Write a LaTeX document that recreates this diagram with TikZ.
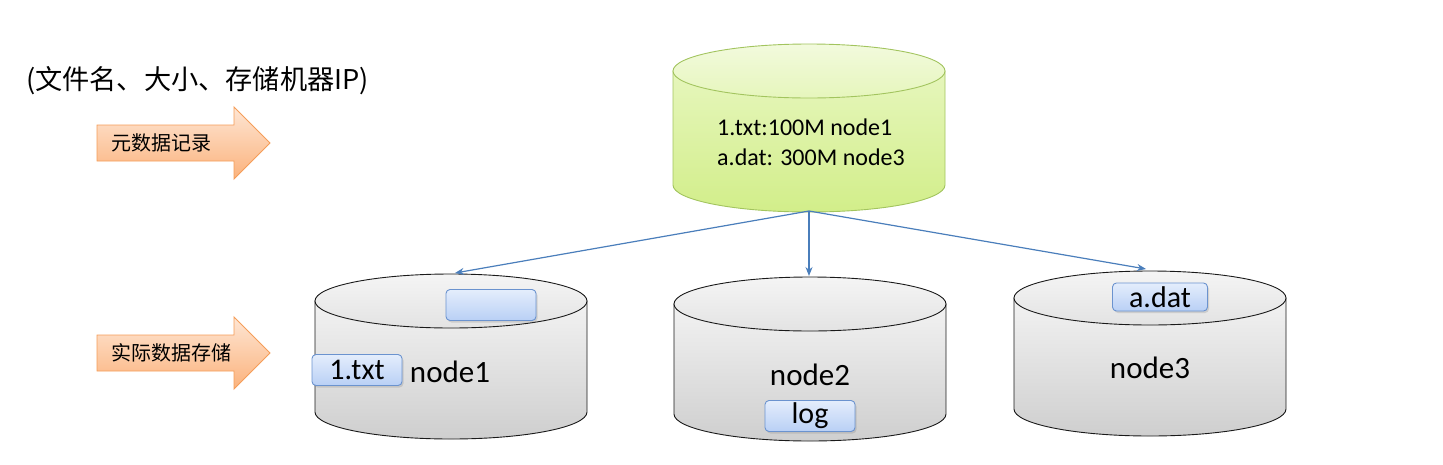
\documentclass[tikz,border=0pt]{standalone}
\usepackage{fontspec}
\setmainfont{Carlito}
\newfontfamily\cjk{Noto Sans CJK SC}
\usetikzlibrary{arrows.meta,shadows}
\definecolor{diskline}{HTML}{1A1A1A}
\definecolor{metaline}{HTML}{A2C45E}
\definecolor{metatop}{HTML}{F2FADD}
\definecolor{metamid}{HTML}{E6F6BC}
\definecolor{metabot}{HTML}{D2EE8A}
\definecolor{linkblue}{HTML}{4A7EBB}
\definecolor{boxline}{HTML}{6B93CF}
\definecolor{boxtop}{HTML}{E4EDFC}
\definecolor{boxbot}{HTML}{B9D0F5}
\definecolor{tagline}{HTML}{F59D58}
\definecolor{tagtop}{HTML}{FEE6D4}
\definecolor{tagbot}{HTML}{FBB27C}

\tikzset{
  gray body/.style={draw=diskline, line width=0.9pt, top color=gray!10, bottom color=gray!38},
  gray top/.style={draw=diskline, line width=0.9pt, top color=gray!8, bottom color=gray!22},
  meta body/.style={draw=metaline, line width=0.9pt, top color=metamid, bottom color=metabot},
  meta top/.style={draw=metaline, line width=0.9pt, top color=metatop, bottom color=metamid},
  pics/disk/.style 2 args={code={
    \path[#1 body] (-136pt,0pt) -- (-136pt,-#2pt)
      arc[start angle=180, end angle=360, x radius=136pt, y radius=27pt]
      -- (136pt,0pt) -- cycle;
    \path[#1 top] (0pt,0pt) ellipse[x radius=136pt, y radius=27pt];
  }},
  disklabel/.style={font=\fontsize{31}{36}\selectfont, inner sep=0pt},
  metatext/.style={font=\fontsize{24}{29}\selectfont, align=left, inner sep=0pt},
  filebox/.style={draw=boxline, line width=0.9pt, rounded corners=4pt,
    top color=boxtop, bottom color=boxbot, minimum width=90pt, minimum height=31pt,
    inner sep=0pt, font=\fontsize{30}{36}\selectfont,
    drop shadow={opacity=0.25, shadow xshift=1.5pt, shadow yshift=-2pt}},
  tag/.style={draw=tagline, line width=0.9pt, top color=tagtop, bottom color=tagbot},
  taglabel/.style={font=\cjk\fontsize{20}{24}\selectfont, inner sep=0pt},
  link/.style={draw=linkblue, line width=1.2pt, -{Stealth[length=9pt, width=7pt]}}
}

\begin{document}
\begin{tikzpicture}[x=1pt, y=-1pt]

\useasboundingbox (0,0) rectangle (1443,464);

%% legend above the left arrows
\node[anchor=west, inner sep=0pt, font=\cjk\fontsize{27.2}{31}\selectfont]
  (legend) at (26,81) {(文件名、大小、存储机器IP)};

%% the two orange arrows on the left
\foreach \y/\txt/\nm in {143/元数据记录/metatag, 353/实际数据存储/realtag} {
  \path[tag] (97,{\y-18}) -- (234,{\y-18}) -- (234,{\y-36}) -- (270,\y)
    -- (234,{\y+36}) -- (234,{\y+18}) -- (97,{\y+18}) -- cycle;
  \node[taglabel, anchor=west] (\nm) at (111,\y) {\txt};
}

%% metadata store
\pic at (809,71) {disk={meta}{114}};
\node[metatext, anchor=west] (meta) at (717,142)
  {1.txt:100M node1\\[1pt]a.dat: 300M node3};

%% data nodes
\pic at (451,301) {disk={gray}{111}};
\pic at (810,304) {disk={gray}{110}};
\pic at (1150,298) {disk={gray}{111}};

\node[disklabel] (node1) at (450,372) {node1};
\node[disklabel] (node2) at (810,375) {node2};
\node[disklabel] (node3) at (1150,368) {node3};

%% file blocks
\node[filebox] (blank) at (491,305) {};
\node[filebox] (txt)   at (357,370) {1.txt};
\node[filebox, minimum width=95pt, minimum height=28pt] (dat) at (1160,297) {a.dat};
\node[filebox] (log)   at (810,416) {log};

%% links from the metadata store
\coordinate (metafoot) at (809,211);
\coordinate (n1head) at (455,273);
\coordinate (n2head) at (809,276);
\coordinate (n3head) at (1146,269);

\draw[link] (metafoot) -- (n1head);
\draw[link] (metafoot) -- (n2head);
\draw[link] (metafoot) -- (n3head);

\end{tikzpicture}
\end{document}
